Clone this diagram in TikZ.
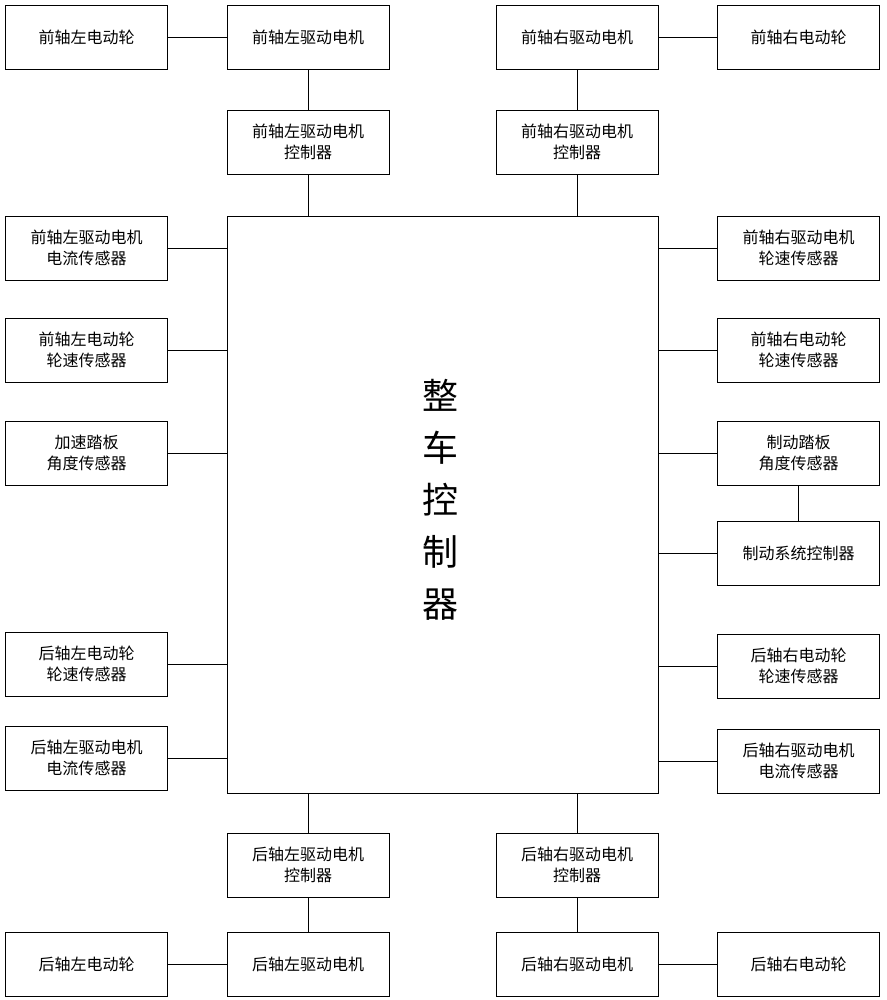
\documentclass[tikz,border=0pt]{standalone}
\usepackage{fontspec}
\setmainfont{Noto Sans CJK SC}
\begin{document}
\begin{tikzpicture}[x=1pt,y=-1pt,
  bx/.style={draw,line width=0.8pt,minimum width=162pt,minimum height=64pt,align=center,inner sep=1pt,font=\fontsize{16}{21}\selectfont},
  ln/.style={line width=0.8pt}]
\useasboundingbox (0,0) rectangle (886,1000);
% top row
\node[bx] (flw) at (86.5,37) {前轴左电动轮};
\node[bx] (flm) at (308,37) {前轴左驱动电机};
\node[bx] (frm) at (577,37) {前轴右驱动电机};
\node[bx] (frw) at (798.5,37) {前轴右电动轮};
\node[bx] (flc) at (308,142) {前轴左驱动电机\\控制器};
\node[bx] (frc) at (577,142) {前轴右驱动电机\\控制器};
% main
\node[draw,line width=0.8pt,minimum width=431pt,minimum height=577pt] (vcu) at (442.5,504.5) {};
\node[font=\fontsize{36}{52}\selectfont,align=center] (vt) at (440,500) {整\\车\\控\\制\\器};
% left
\node[bx] (l1) at (86.5,248) {前轴左驱动电机\\电流传感器};
\node[bx] (l2) at (86.5,350) {前轴左电动轮\\轮速传感器};
\node[bx] (l3) at (86.5,453) {加速踏板\\角度传感器};
\node[bx] (l4) at (86.5,664) {后轴左电动轮\\轮速传感器};
\node[bx] (l5) at (86.5,758) {后轴左驱动电机\\电流传感器};
% right
\node[bx] (r1) at (798.5,248) {前轴右驱动电机\\轮速传感器};
\node[bx] (r2) at (798.5,350) {前轴右电动轮\\轮速传感器};
\node[bx] (r3) at (798.5,453) {制动踏板\\角度传感器};
\node[bx] (r4) at (798.5,553) {制动系统控制器};
\node[bx] (r5) at (798.5,666) {后轴右电动轮\\轮速传感器};
\node[bx] (r6) at (798.5,761) {后轴右驱动电机\\电流传感器};
% bottom
\node[bx] (blc) at (308,865) {后轴左驱动电机\\控制器};
\node[bx] (brc) at (577,865) {后轴右驱动电机\\控制器};
\node[bx] (blw) at (86.5,964) {后轴左电动轮};
\node[bx] (blm) at (308,964) {后轴左驱动电机};
\node[bx] (brm) at (577,964) {后轴右驱动电机};
\node[bx] (brw) at (798.5,964) {后轴右电动轮};
% connectors
\draw[ln] (flw) -- (flm);
\draw[ln] (frm) -- (frw);
\draw[ln] (flm) -- (flc);
\draw[ln] (frm) -- (frc);
\draw[ln] (flc) -- (flc|-vcu.north);
\draw[ln] (frc) -- (frc|-vcu.north);
\foreach \n in {l1,l2,l3,l4,l5} \draw[ln] (\n.east) -- (\n.east-|vcu.west);
\foreach \n in {r1,r2,r3,r4,r5,r6} \draw[ln] (\n.west) -- (\n.west-|vcu.east);
\draw[ln] (r3) -- (r4);
\draw[ln] (blc) -- (blc|-vcu.south);
\draw[ln] (brc) -- (brc|-vcu.south);
\draw[ln] (blc) -- (blm);
\draw[ln] (brc) -- (brm);
\draw[ln] (blw) -- (blm);
\draw[ln] (brm) -- (brw);
\end{tikzpicture}
\end{document}
